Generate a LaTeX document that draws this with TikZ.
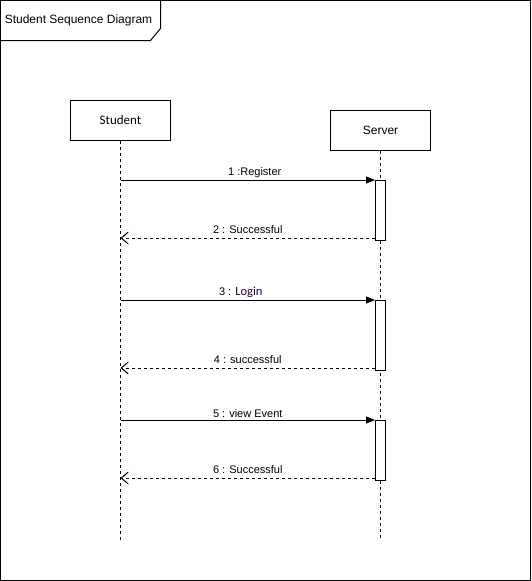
\documentclass[tikz,border=0pt]{standalone}
\usepackage{fontspec}
\setmainfont{Liberation Sans}
\newfontfamily\calib{Carlito}
\usetikzlibrary{arrows.meta}
\definecolor{loginink}{RGB}{30,0,60}

\begin{document}
\begin{tikzpicture}[x=1pt,y=-1pt,
  actor/.style={draw,line width=1pt,minimum width=100pt,minimum height=40pt,inner sep=0pt,font=\fontsize{12}{14}\selectfont},
  actbar/.style={draw,fill=white,line width=1pt,minimum width=10pt,minimum height=#1,inner sep=0pt},
  life/.style={line width=1pt,dash pattern=on 3pt off 3pt},
  call/.style={line width=1pt,-{Triangle[length=9pt,width=7pt]}},
  reply/.style={line width=1pt,dash pattern=on 3pt off 3pt,-{Straight Barb[length=7pt,width=12pt]}},
  lbl/.style={font=\fontsize{11}{13}\selectfont,inner sep=1pt,above=1pt}]
\useasboundingbox (-0.5,-0.5) rectangle (530.5,580.5);
% frame
\draw[line width=1pt] (0,0) rectangle (530,580);
\draw[line width=1pt] (0,40) -- (150,40) -- (160,28) -- (160,0);
\node[font=\fontsize{12}{14}\selectfont] (title) at (78,20) {Student Sequence Diagram};

% lifelines
\node[actor] (student) at (120,120) {\calib\fontsize{13}{15}\selectfont Student};
\node[actor] (server) at (380,130) {Server};
\coordinate (stuEnd) at (120,540);
\coordinate (srvEnd) at (380,537);
\draw[life] (student) -- (stuEnd);
\draw[life] (server) -- (srvEnd);

% activations
\node[actbar=60pt] (act1) at (380,210) {};
\node[actbar=70pt] (act2) at (380,335) {};
\node[actbar=60pt] (act3) at (380,450) {};
\coordinate (ret1) at ([yshift=3pt]act1.south west);
\coordinate (ret2) at ([yshift=3pt]act2.south west);
\coordinate (ret3) at ([yshift=3pt]act3.south west);

% messages
\draw[call] (student |- act1.north) -- (act1.north west) node[lbl,midway,xshift=7pt] {1 :Register};
\draw[reply] (ret1) -- (student |- ret1) node[lbl,midway,yshift=2pt] {2 : Successful};
\draw[call] (student |- act2.north) -- (act2.north west) node[lbl,midway,xshift=-7pt] {3 : {\calib\fontsize{12.5}{14}\selectfont\color{loginink}Login}};
\draw[reply] (ret2) -- (student |- ret2) node[lbl,midway,yshift=2pt] {4 : successful};
\draw[call] (student |- act3.north) -- (act3.north west) node[lbl,midway] {5 : view Event};
\draw[reply] (ret3) -- (student |- ret3) node[lbl,midway,yshift=2pt] {6 : Successful};
\end{tikzpicture}
\end{document}
